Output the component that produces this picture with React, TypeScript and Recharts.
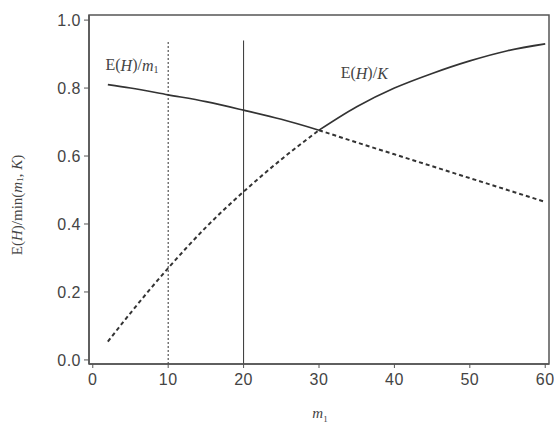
import React from 'react';
import {
  LineChart, Line, XAxis, YAxis, ReferenceLine, ReferenceDot, ReferenceArea,
} from 'recharts';

// m1 values along the x axis
const m1Values = [2, 5, 10, 15, 20, 25, 30, 35, 40, 45, 50, 55, 60];
// E(H)/m1
const ratioM1 = [0.81, 0.8, 0.78, 0.76, 0.735, 0.708, 0.676, 0.64, 0.605, 0.57, 0.535, 0.5, 0.465];
// E(H)/K
const ratioK = [0.054, 0.138, 0.27, 0.39, 0.495, 0.59, 0.676, 0.745, 0.8, 0.843, 0.88, 0.91, 0.93];
// m1 = K at this point: solid/dashed swap
const crossAt = 30;

const xTicks = [0, 10, 20, 30, 40, 50, 60];
const yTicks = [0, 0.2, 0.4, 0.6, 0.8, 1.0];
const xDomain = [-0.5, 60.5];
const yDomain = [-0.012, 1.015];

// vertical markers
const markerX = [10, 20];
const markerTop = 0.94;

// curve labels: [x, y]
const labelM1 = [5.2, 0.868];
const labelK = [36, 0.845];

const data = m1Values.map((m, i) => ({
  m,
  m1Solid: m <= crossAt ? ratioM1[i] : null,
  m1Dash: m >= crossAt ? ratioM1[i] : null,
  kDash: m <= crossAt ? ratioK[i] : null,
  kSolid: m >= crossAt ? ratioK[i] : null,
}));

const ink = '#333';
const axisInk = '#555';
const tickStyle = { fontFamily: '"Liberation Sans", Arial, sans-serif', fontSize: 16, fill: '#444', letterSpacing: 0.5 };
const serif = '"Liberation Serif", "Times New Roman", serif';

const CurveLabel = ({ viewBox, name }: any) => {
  const cx = viewBox.x + (viewBox.width || 0) / 2;
  const cy = viewBox.y + (viewBox.height || 0) / 2;
  return (
    <text x={cx} y={cy} textAnchor="middle" dominantBaseline="central" fontFamily={serif} fontSize={16} fill="#444">
      E(<tspan fontStyle="italic">H</tspan>)/
      {name === 'm1' ? (
        <>
          <tspan fontStyle="italic">m</tspan>
          <tspan fontSize={10} dy={4}>1</tspan>
        </>
      ) : (
        <tspan fontStyle="italic">K</tspan>
      )}
    </text>
  );
};

const YLabel = () => (
  <text x={17} y={205} transform="rotate(-90 17 205)" textAnchor="middle" dominantBaseline="central"
    fontFamily={serif} fontSize={15} fill="#444">
    E(<tspan fontStyle="italic">H</tspan>)/min(<tspan fontStyle="italic">m</tspan>
    <tspan fontSize={9} dy={3}>1</tspan>
    <tspan dy={-3}>, </tspan>
    <tspan fontStyle="italic">K</tspan>)
  </text>
);

const XLabel = () => (
  <text x={320} y={418} textAnchor="middle" fontFamily={serif} fontSize={15} fill="#444">
    <tspan fontStyle="italic">m</tspan>
    <tspan fontSize={9} dy={4}>1</tspan>
  </text>
);

export default function App() {
  return (
    <div style={{ position: 'absolute', left: 0, top: 0, width: 554, height: 425, background: '#fff' }}>
      <LineChart width={554} height={425} data={data} margin={{ top: 15, right: 5, bottom: 0, left: 0 }}>
        <XAxis
          dataKey="m" type="number" domain={xDomain} ticks={xTicks} allowDataOverflow
          height={61} tick={tickStyle} tickSize={4} tickMargin={6}
          axisLine={{ stroke: axisInk, strokeWidth: 1.5 }} tickLine={{ stroke: axisInk }}
        />
        <YAxis
          type="number" domain={yDomain} ticks={yTicks} allowDataOverflow width={89}
          tick={tickStyle} tickSize={5} tickMargin={3}
          tickFormatter={(v: number) => v.toFixed(1)}
          axisLine={{ stroke: axisInk, strokeWidth: 1.5 }} tickLine={{ stroke: axisInk }}
        />

        <ReferenceArea x1={xDomain[0]} x2={xDomain[1]} y1={yDomain[0]} y2={yDomain[1]}
          fill="none" fillOpacity={0} stroke={axisInk} strokeWidth={1.5} />

        {markerX.map((mx, i) => (
          <ReferenceLine key={mx}
            segment={[{ x: mx, y: yDomain[0] }, { x: mx, y: markerTop }]}
            stroke={ink} strokeWidth={1} strokeDasharray={i === 0 ? '2 2' : undefined} />
        ))}

        <Line dataKey="m1Solid" type="monotone" stroke={ink} strokeWidth={1.6} dot={false} isAnimationActive={false} />
        <Line dataKey="m1Dash" type="monotone" stroke={ink} strokeWidth={2} strokeDasharray="4 3" dot={false} isAnimationActive={false} />
        <Line dataKey="kDash" type="monotone" stroke={ink} strokeWidth={2} strokeDasharray="4 3" dot={false} isAnimationActive={false} />
        <Line dataKey="kSolid" type="monotone" stroke={ink} strokeWidth={1.6} dot={false} isAnimationActive={false} />

        <ReferenceDot x={labelM1[0]} y={labelM1[1]} r={0} fill="none" stroke="none"
          label={(p: any) => <CurveLabel {...p} name="m1" />} />
        <ReferenceDot x={labelK[0]} y={labelK[1]} r={0} fill="none" stroke="none"
          label={(p: any) => <CurveLabel {...p} name="K" />} />
      </LineChart>
      <svg width={554} height={425} style={{ position: 'absolute', left: 0, top: 0, pointerEvents: 'none' }}>
        <YLabel />
        <XLabel />
      </svg>
    </div>
  );
}
